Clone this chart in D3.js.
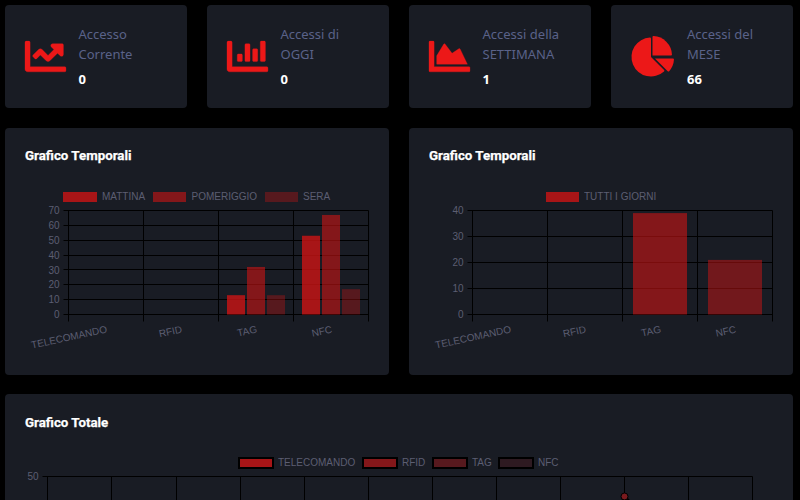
<!DOCTYPE html>
<html>
<head>
<meta charset="utf-8">
<script src="https://cdn.jsdelivr.net/npm/d3@7"></script>
<style>
  html, body { margin: 0; padding: 0; background: #000; overflow: hidden; }
  svg { display: block; }
  /* testo dei canvas senza antialias LCD */
  .canvas-text { opacity: 0.999; }
</style>
</head>
<body>
<svg id="page" width="800" height="500"></svg>
<script>
// dati
const categorie = ['TELECOMANDO', 'RFID', 'TAG', 'NFC'];
const fasce = ['MATTINA', 'POMERIGGIO', 'SERA'];
const mattina = [0, 0, 13, 53];
const pomeriggio = [0, 0, 32, 67];
const sera = [0, 0, 13, 17];
const tuttiGiorni = [0, 0, 39, 21];
const ticksFasce = [0, 10, 20, 30, 40, 50, 60, 70];
const ticksGiorni = [0, 10, 20, 30, 40];

const mesi = ['GEN', 'FEB', 'MAR', 'APR', 'MAG', 'GIU', 'LUG', 'AGO', 'SET', 'OTT', 'NOV', 'DIC'];
const serieTotale = ['TELECOMANDO', 'RFID', 'TAG', 'NFC'];
const totaleTag = [0, 0, 0, 0, 0, 0, 0, 0, 0, 45, 28, 0];
const ticksTotale = [0, 10, 20, 30, 40, 50];

const titoliCard = [['Accesso', 'Corrente'], ['Accessi di', 'OGGI'], ['Accessi della', 'SETTIMANA'], ['Accessi del', 'MESE']];
const valoriCard = ['0', '0', '1', '66'];

const ICON_LINE = 'M496 384H64V80c0-8.84-7.16-16-16-16H16C7.16 64 0 71.16 0 80v336c0 17.67 14.33 32 32 32h464c8.84 0 16-7.16 16-16v-32c0-8.84-7.16-16-16-16zM464 96H345.94c-21.38 0-32.09 25.85-16.97 40.97l32.4 32.4L288 242.75l-73.37-73.37c-12.5-12.5-32.76-12.5-45.25 0l-68.69 68.69c-6.25 6.25-6.25 16.38 0 22.63l22.62 22.62c6.25 6.25 16.38 6.25 22.63 0L192 237.25l73.37 73.37c12.5 12.5 32.76 12.5 45.25 0l96-96 32.4 32.4c15.12 15.12 40.97 4.41 40.97-16.97V112c0-8.84-7.16-16-16-16z';
const ICON_BAR = 'M332.8 320h38.4c6.4 0 12.8-6.4 12.8-12.8V172.8c0-6.4-6.4-12.8-12.8-12.8h-38.4c-6.4 0-12.8 6.4-12.8 12.8v134.4c0 6.4 6.4 12.8 12.8 12.8zm96 0h38.4c6.4 0 12.8-6.4 12.8-12.8V76.8c0-6.4-6.4-12.8-12.8-12.8h-38.4c-6.4 0-12.8 6.4-12.8 12.8v230.4c0 6.4 6.4 12.8 12.8 12.8zm-288 0h38.4c6.4 0 12.8-6.4 12.8-12.8v-70.4c0-6.4-6.4-12.8-12.8-12.8h-38.4c-6.4 0-12.8 6.4-12.8 12.8v70.4c0 6.4 6.4 12.8 12.8 12.8zm96 0h38.4c6.4 0 12.8-6.4 12.8-12.8V108.8c0-6.4-6.4-12.8-12.8-12.8h-38.4c-6.4 0-12.8 6.4-12.8 12.8v198.4c0 6.4 6.4 12.8 12.8 12.8zM496 384H64V80c0-8.84-7.16-16-16-16H16C7.16 64 0 71.16 0 80v336c0 17.67 14.33 32 32 32h464c8.84 0 16-7.16 16-16v-32c0-8.84-7.16-16-16-16z';
const ICON_AREA = 'M500 384c6.6 0 12 5.4 12 12v40c0 6.6-5.4 12-12 12H12c-6.6 0-12-5.4-12-12V76c0-6.6 5.4-12 12-12h40c6.6 0 12 5.4 12 12v308h436zM372.7 159.5L288 216l-85.3-113.7c-5.1-6.8-15.5-6.3-19.9 1L96 248v104h384l-89.9-187.8c-3.2-6.5-11.4-8.7-17.4-4.7z';

const svg = d3.select('#page');
const PANEL = '#191c24', ROSSO = '#ec1818', MUTED = '#5a6289', GRIGIO = '#5c5e72';
const FONT_CHART = '"Liberation Sans", Arial, sans-serif';
const rosso = a => 'rgba(204,20,20,' + a + ')';
const snap = v => Math.floor(v) + 0.5;

function pannello(x, y, w, h) {
  svg.append('rect').attr('x', x).attr('y', y).attr('width', w).attr('height', h)
    .attr('rx', 4).attr('fill', PANEL);
}

// ── Card in alto ──────────────────────────────────────────────
const cardX = [5, 207, 409, 611];
const testoX = [78.5, 280.5, 482.5, 687];
cardX.forEach((x, i) => {
  pannello(x, 5, 182, 103);
  const t = svg.append('g').attr('font-family', '"Noto Sans", "Open Sans", sans-serif');
  titoliCard[i].forEach((riga, r) => {
    t.append('text').attr('x', testoX[i]).attr('y', 39 + r * 20)
      .attr('font-size', 13).attr('fill', MUTED).text(riga);
  });
  t.append('text').attr('x', testoX[i]).attr('y', 84)
    .attr('font-size', 13).attr('font-weight', 700).attr('fill', '#fff').text(valoriCard[i]);
});

[ICON_LINE, ICON_BAR, ICON_AREA].forEach((p, i) => {
  svg.append('path').attr('d', p).attr('fill', ROSSO)
    .attr('stroke', ROSSO).attr('stroke-width', 4)
    .attr('transform', 'translate(' + (cardX[i] + 20) + ',36) scale(0.08)');
});

// icona a torta
const arco = d3.arc().cornerRadius(1);
const PI = Math.PI;
svg.append('path').attr('fill', ROSSO).attr('transform', 'translate(651,57)')
  .attr('d', arco({ innerRadius: 0, outerRadius: 19.5, startAngle: 0.75 * PI, endAngle: 2 * PI }));
svg.append('path').attr('fill', ROSSO).attr('transform', 'translate(652.5,55.5)')
  .attr('d', arco({ innerRadius: 0, outerRadius: 19.5, startAngle: 0, endAngle: 0.5 * PI }));
svg.append('path').attr('fill', ROSSO).attr('transform', 'translate(655,58.5)')
  .attr('d', arco({ innerRadius: 0, outerRadius: 19, startAngle: 0.5 * PI, endAngle: 0.75 * PI }));

function titolo(x, y, testo) {
  svg.append('text').attr('x', x).attr('y', y)
    .attr('font-family', 'Roboto, sans-serif').attr('font-size', 13.3).attr('font-weight', 700)
    .attr('fill', '#fff').attr('stroke', '#fff').attr('stroke-width', 0.25).text(testo);
}

function legenda(voci) {
  voci.forEach(v => {
    svg.append('rect').attr('x', v.x).attr('y', v.y).attr('width', v.w).attr('height', v.h)
      .attr('fill', v.colore).attr('stroke', v.bordo || 'none').attr('stroke-width', v.bordo ? 2 : 0);
    svg.append('text').attr('class', 'canvas-text').attr('x', v.tx).attr('y', v.y + v.h / 2 + 3)
      .attr('font-family', FONT_CHART).attr('font-size', 10).attr('fill', GRIGIO).text(v.testo);
  });
}

// griglia nera + etichette asse y, come gli assi di Chart.js
function assi(g, x, y, ticks, verticali, sotto) {
  const [x0, x1] = x.range();
  const [y0, y1] = y.range();
  const ax = d3.axisLeft(y).tickValues(ticks).tickSize(5).tickPadding(4);
  const ay = g.append('g').attr('class', 'canvas-text').attr('transform', 'translate(' + snap(x0) + ',0)').call(ax);
  ay.select('.domain').remove();
  ay.selectAll('line').attr('stroke', 'none');
  ay.selectAll('text').attr('fill', GRIGIO).attr('font-family', FONT_CHART).attr('font-size', 10);
  g.append('g').selectAll('line').data(ticks).enter().append('line')
    .attr('x1', snap(x0) - 5).attr('x2', snap(x1))
    .attr('y1', d => snap(y(d))).attr('y2', d => snap(y(d)))
    .attr('stroke', '#000');
  g.append('g').selectAll('line').data(verticali).enter().append('line')
    .attr('x1', d => snap(d)).attr('x2', d => snap(d))
    .attr('y1', snap(y1)).attr('y2', y0 + sotto)
    .attr('stroke', '#000');
}

function graficoBarre(x0, x1, y0, y1, maxY, ticks, serie) {
  const g = svg.append('g');
  const x = d3.scaleBand().domain(categorie).range([x0, x1]).paddingInner(0.2).paddingOuter(0.1);
  const y = d3.scaleLinear().domain([0, maxY]).range([y0, y1]);
  const passo = x.step();
  const verticali = d3.range(categorie.length + 1).map(i => x0 + i * passo);
  assi(g, x, y, ticks, verticali, 7);

  const xs = d3.scaleBand().domain(d3.range(serie.length)).range([0, x.bandwidth()])
    .paddingInner(0.1).paddingOuter(0.05);
  serie.forEach((s, k) => {
    g.append('g').selectAll('rect').data(s.valori).enter().append('rect')
      .attr('x', (d, i) => x(categorie[i]) + xs(k))
      .attr('y', d => y(d))
      .attr('width', xs.bandwidth())
      .attr('height', d => y(0) - y(d))
      .attr('fill', (d, i) => s.colore(i));
  });

  g.append('g').selectAll('text').data(categorie).enter().append('text')
    .attr('transform', d => 'translate(' + (x(d) + x.bandwidth() / 2 + 1.5) + ',332.5) rotate(-12)')
    .attr('text-anchor', 'end')
    .attr('font-family', FONT_CHART).attr('font-size', 10).attr('fill', GRIGIO)
    .text(d => d);
}

// ── Grafico Temporali (fasce) ─────────────────────────────────
pannello(5, 128, 384, 247);
titolo(25, 160, 'Grafico Temporali');
legenda([
  { x: 63, y: 192, w: 34, h: 10, tx: 102, colore: rosso(0.8), testo: fasce[0] },
  { x: 153, y: 192, w: 33, h: 10, tx: 191.5, colore: rosso(0.6), testo: fasce[1] },
  { x: 265, y: 192, w: 33, h: 10, tx: 303, colore: rosso(0.35), testo: fasce[2] }
]);
graficoBarre(68.5, 368.5, 314.5, 210.5, 70, ticksFasce, [
  { valori: mattina, colore: () => rosso(0.8) },
  { valori: pomeriggio, colore: () => rosso(0.6) },
  { valori: sera, colore: () => rosso(0.35) }
]);

// ── Grafico Temporali (tutti i giorni) ────────────────────────
const alfaGiorni = [0.8, 0.7, 0.6, 0.5];
pannello(409, 128, 384, 247);
titolo(429, 160, 'Grafico Temporali');
legenda([{ x: 546, y: 192, w: 33, h: 10, tx: 584, colore: rosso(0.8), testo: 'TUTTI I GIORNI' }]);
graficoBarre(472.5, 772.5, 314.5, 210.5, 40, ticksGiorni, [
  { valori: tuttiGiorni, colore: i => rosso(alfaGiorni[i]) }
]);

// ── Grafico Totale (tagliato dal bordo della pagina) ──────────
pannello(5, 394, 788, 120);
titolo(25, 427, 'Grafico Totale');
const alfaTotale = [0.8, 0.6, 0.35, 0.12];
legenda([
  { x: 239, y: 458, w: 34, h: 10, tx: 278, bordo: '#000', colore: rosso(alfaTotale[0]), testo: serieTotale[0] },
  { x: 363, y: 458, w: 34, h: 10, tx: 402, bordo: '#000', colore: rosso(alfaTotale[1]), testo: serieTotale[1] },
  { x: 433, y: 458, w: 34, h: 10, tx: 472, bordo: '#000', colore: rosso(alfaTotale[2]), testo: serieTotale[2] },
  { x: 499, y: 458, w: 34, h: 10, tx: 538, bordo: '#000', colore: rosso(alfaTotale[3]), testo: serieTotale[3] }
]);

const xTot = d3.scalePoint().domain(mesi).range([47.9, 752.9]);
const yTot = d3.scaleLinear().domain([0, 50]).range([676.5, 476.5]);
const gTot = svg.append('g');
assi(gTot, xTot, yTot, ticksTotale.slice(-1), mesi.map(m => xTot(m)), 0);

gTot.append('path').datum(totaleTag)
  .attr('fill', 'none').attr('stroke', '#000').attr('stroke-width', 3)
  .attr('d', d3.line().x((d, i) => snap(xTot(mesi[i]))).y(d => yTot(d)));
gTot.append('circle').attr('cx', snap(xTot('OTT'))).attr('cy', yTot(totaleTag[9])).attr('r', 3.5)
  .attr('fill', '#7a1a1e').attr('stroke', '#000').attr('stroke-width', 1);
</script>
</body>
</html>
